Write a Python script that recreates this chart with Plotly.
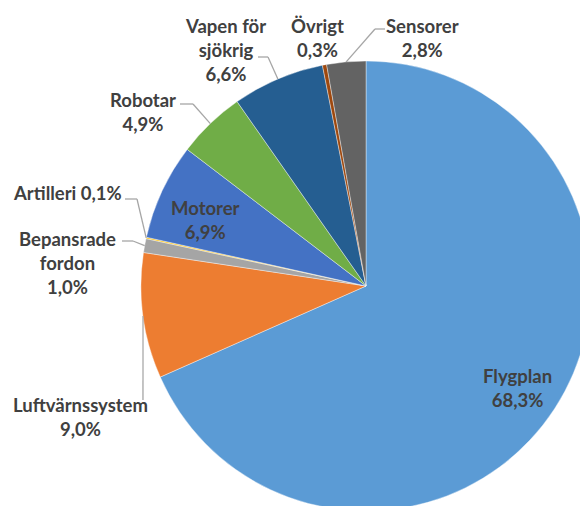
import math
import plotly.graph_objects as go

# ---- data ----
categories = ["Flygplan", "Luftvärnssystem", "Bepansrade fordon", "Artilleri",
              "Motorer", "Robotar", "Vapen för sjökrig", "Övrigt", "Sensorer"]
shares = [68.3, 9.0, 1.0, 0.1, 6.9, 4.9, 6.6, 0.3, 2.8]
label_texts = ["Flygplan<br>68,3%", "Luftvärnssystem<br>9,0%", "Bepansrade<br>fordon<br>1,0%",
               "Artilleri 0,1%", "Motorer<br>6,9%", "Robotar<br>4,9%",
               "Vapen för<br>sjökrig<br>6,6%", "Övrigt<br>0,3%", "Sensorer<br>2,8%"]
colors = ["#5B9BD5", "#ED7D31", "#A5A5A5", "#FFC000", "#4472C4",
          "#70AD47", "#255E91", "#9E480E", "#636363"]

# ---- layout (pixels) ----
W, H = 600, 520
CX, CY, R = 366, 286, 225

# label centre positions (px) and leader elbow / end points (px); None = no leader
label_pos = [(517, 388), (80, 417), (67, 263), (67, 193), (205, 220),
             (143, 112), (225, 50), (317, 38), (422, 38)]
leaders = [None, [(143, 400)], [(133, 241), (122, 241)], [(137, 199), (125, 199)], None,
           [(193, 104), (180, 104)], [(268, 57), (258, 57)], None, [(375, 29), (385, 29)]]

def px(x):
    return x / W

def py(y):
    return 1 - y / H

fig = go.Figure(go.Pie(
    labels=categories, values=shares, sort=False, direction="clockwise", rotation=0,
    marker=dict(colors=colors, line=dict(color="white", width=0.4)),
    textinfo="none", hoverinfo="label+percent", showlegend=False,
    domain=dict(x=[px(CX - R), px(CX + R)], y=[py(CY + R), py(CY - R)]),
))

total = sum(shares)
cum = 0.0
shapes = []
annotations = []
for i, v in enumerate(shares):
    mid = (cum + v / 2) / total * 2 * math.pi
    cum += v
    ax, ay = CX + R * math.sin(mid), CY - R * math.cos(mid)
    if leaders[i]:
        pts = [(ax, ay)] + leaders[i]
        for (x0, y0), (x1, y1) in zip(pts[:-1], pts[1:]):
            shapes.append(dict(type="line", xref="paper", yref="paper",
                               x0=px(x0), y0=py(y0), x1=px(x1), y1=py(y1),
                               line=dict(color="#A6A6A6", width=1.3)))
    lx, ly = label_pos[i]
    annotations.append(dict(text=label_texts[i], x=px(lx), y=py(ly), xref="paper", yref="paper",
                            showarrow=False, xanchor="center", yanchor="middle", align="center",
                            font=dict(family="Lato", size=18.5, color="#404040", weight="bold")))

fig.update_layout(width=W, height=H, margin=dict(l=0, r=0, t=0, b=0),
                  paper_bgcolor="white", plot_bgcolor="white",
                  shapes=shapes, annotations=annotations)

fig.write_html("out.html", config={"displayModeBar": False},
               post_script="document.body.style.margin='0';document.body.style.overflow='hidden';document.documentElement.style.overflow='hidden';")
